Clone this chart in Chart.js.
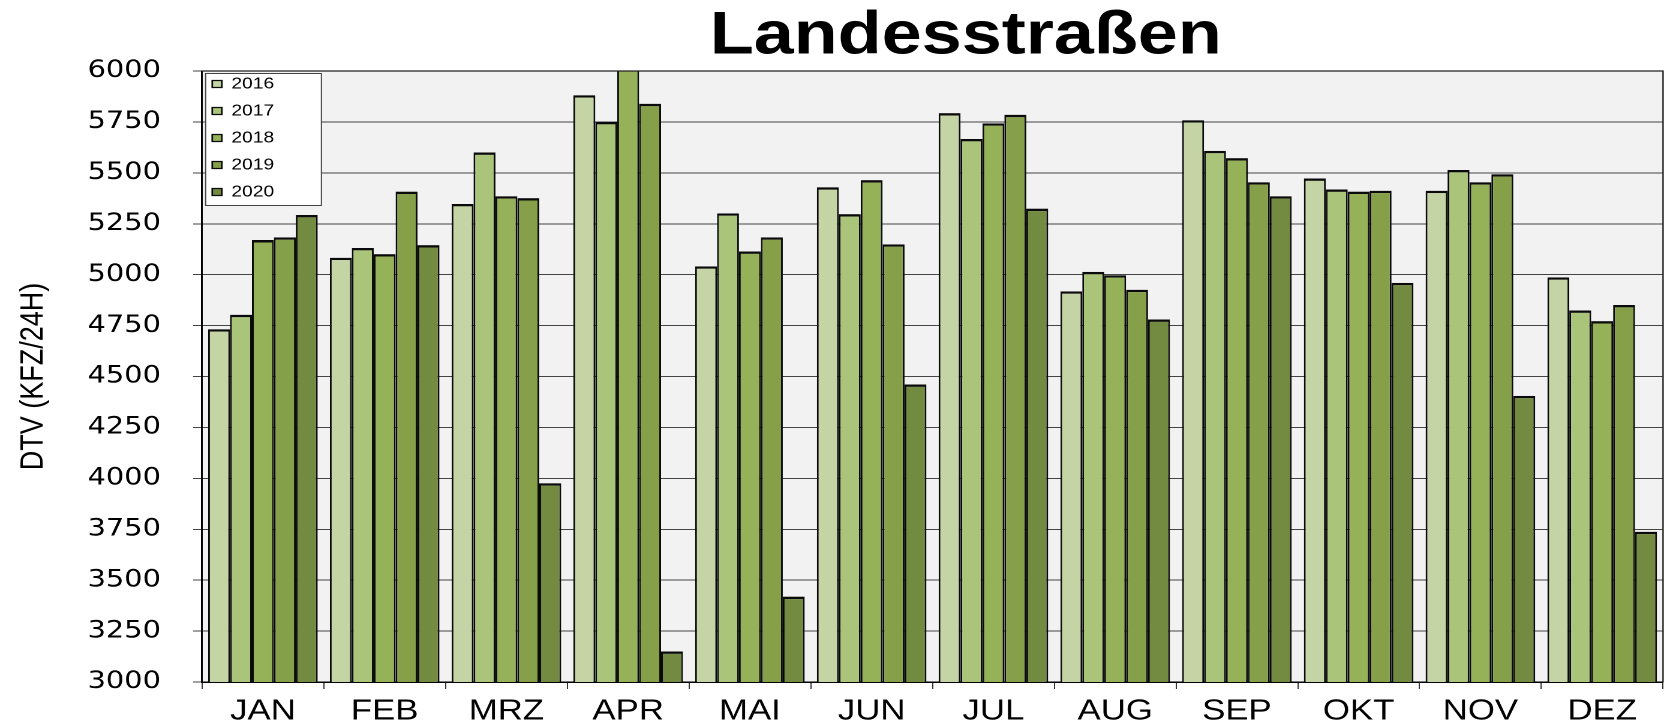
<!DOCTYPE html>
<html>
<head>
<meta charset="utf-8">
<title>Landesstraßen</title>
<script src="https://cdn.jsdelivr.net/npm/chart.js@4.4.1/dist/chart.umd.min.js"></script>
<style>
  html, body { margin: 0; padding: 0; background: #fff; overflow: hidden; }
  /* the original is stretched sideways, so the chart is drawn narrower and widened */
  #wrap { width: 1392px; height: 727px; transform: scaleX(1.19971); transform-origin: 0 0; }
</style>
</head>
<body>
<div id="wrap"><canvas id="landesChart"></canvas></div>
<script>
const monate = ["JAN", "FEB", "MRZ", "APR", "MAI", "JUN", "JUL", "AUG", "SEP", "OKT", "NOV", "DEZ"];
const jahre = ["2016", "2017", "2018", "2019", "2020"];
const dtv2016 = [4732, 5083, 5347, 5881, 5041, 5429, 5793, 4918, 5758, 5472, 5412, 4987];
const dtv2017 = [4803, 5131, 5600, 5750, 5301, 5297, 5666, 5014, 5608, 5418, 5514, 4824];
const dtv2018 = [5170, 5101, 5385, 6010, 5114, 5464, 5743, 4997, 5572, 5408, 5454, 4772];
const dtv2019 = [5183, 5408, 5376, 5839, 5183, 5149, 5785, 4926, 5454, 5412, 5493, 4851];
const dtv2020 = [5293, 5145, 3976, 3150, 3419, 4461, 5324, 4780, 5385, 4960, 4405, 3738];
const farben = ["#C4D4A4", "#AAC47A", "#96B258", "#86A04A", "#738B40"];

Chart.defaults.font.family = "'Liberation Sans', Arial, sans-serif";
Chart.defaults.color = "#000";

const rahmen = {
  id: "rahmen",
  afterLayout(chart) {
    // title sits a bit right of the canvas centre
    const t = chart.titleBlock;
    const dx = 805 - (t.left + t.right) / 2;
    t.left += dx;
    t.right += dx;
    // legend inside the plot, top left
    const lg = chart.legend;
    lg.left = chart.chartArea.left - 2.5;
    lg.right = lg.left + lg.width;
    lg.top = chart.chartArea.top - 6;
    lg.bottom = lg.top + lg.height;
  },
  beforeDraw(chart) {
    const { ctx, chartArea: a } = chart;
    ctx.save();
    ctx.fillStyle = "#F2F2F2";
    ctx.fillRect(a.left, a.top, a.width, a.height);
    ctx.restore();
  },
  beforeDatasetsDraw(chart) {
    const { ctx, chartArea: a } = chart;
    ctx.save();
    ctx.fillStyle = "#fff";
    ctx.strokeStyle = "#444";
    ctx.lineWidth = 1;
    ctx.fillRect(a.left + 3, a.top + 2.5, 96.5, 132);
    ctx.strokeRect(a.left + 3, a.top + 2.5, 96.5, 132);
    ctx.restore();
    chart.legend.draw(a);
  },
  afterDatasetsDraw(chart) {
    const { ctx, chartArea: a } = chart;
    ctx.save();
    ctx.strokeStyle = "#222";
    ctx.lineWidth = 1.2;
    ctx.beginPath();
    ctx.moveTo(a.left, a.top);
    ctx.lineTo(a.right, a.top);
    ctx.lineTo(a.right, a.bottom);
    ctx.stroke();
    ctx.restore();
  },
};

const reihen = [dtv2016, dtv2017, dtv2018, dtv2019, dtv2020].map((werte, i) => ({
  label: jahre[i],
  data: werte,
  backgroundColor: farben[i],
  borderColor: "#0a0a0a",
  borderWidth: { top: 2.4, left: 1.5, right: 1.5, bottom: 0 },
  borderSkipped: "start",
  categoryPercentage: 0.9,
  barPercentage: 1.0,
}));

new Chart(document.getElementById("landesChart"), {
  type: "bar",
  data: { labels: monate, datasets: reihen },
  plugins: [rahmen],
  options: {
    responsive: true,
    maintainAspectRatio: false,
    devicePixelRatio: 2,
    animation: false,
    layout: { padding: { left: 0, right: 5.8, top: 0, bottom: 0 } },
    plugins: {
      tooltip: { enabled: false },
      title: {
        display: true,
        text: "Landesstraßen",
        font: { size: 60, weight: "bold", lineHeight: 1 },
        color: "#000",
        padding: { top: 7, bottom: 4 },
      },
      legend: {
        position: "chartArea",
        align: "start",
        labels: {
          boxWidth: 8,
          boxHeight: 7,
          padding: 11,
          color: "#000",
          font: { size: 16 },
        },
      },
    },
    scales: {
      x: {
        afterFit(scale) { scale.height = 45; },
        grid: { drawOnChartArea: false, drawTicks: true, tickLength: 7, color: "#333" },
        border: { color: "#000", width: 1.5 },
        ticks: { font: { size: 29 }, color: "#000", padding: 5 },
      },
      y: {
        min: 3000,
        max: 6000,
        afterFit(scale) { scale.width = 168.4; },
        grid: { color: "#444", lineWidth: 1, tickLength: 7.5, tickColor: "#444" },
        border: { color: "#000", width: 1.5 },
        ticks: {
          stepSize: 250,
          padding: 26.8,
          color: "#000",
          font: { family: "'DejaVu Sans', sans-serif", size: 24 },
          callback: (wert) => String(wert),
        },
        title: {
          display: true,
          text: "DTV (KFZ/24H)",
          font: { size: 27 },
          color: "#000",
          padding: { top: 12, bottom: 0 },
        },
      },
    },
  },
});
</script>
</body>
</html>
